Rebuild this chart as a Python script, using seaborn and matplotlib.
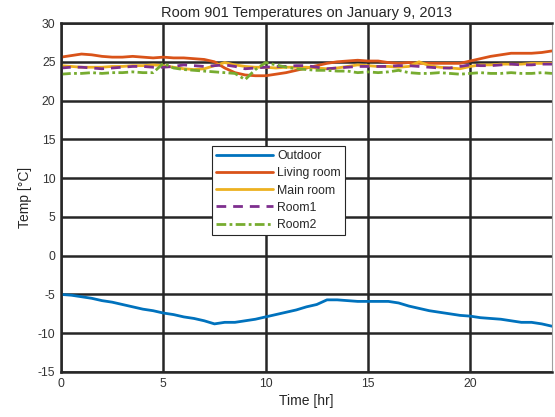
import numpy as np
import pandas as pd
import matplotlib
matplotlib.use("Agg")
import matplotlib.pyplot as plt
import seaborn as sns

# Half-hourly readings, 0 h to 24 h
hours = [i * 0.5 for i in range(49)]

outdoor = [-5.0, -5.1, -5.3, -5.5, -5.8, -6.0, -6.3, -6.6, -6.9, -7.1,
           -7.4, -7.6, -7.9, -8.1, -8.4, -8.8, -8.6, -8.6, -8.4, -8.2,
           -7.9, -7.6, -7.3, -7.0, -6.6, -6.3, -5.7, -5.7, -5.8, -5.9,
           -5.9, -5.9, -5.9, -6.1, -6.5, -6.8, -7.1, -7.3, -7.5, -7.7,
           -7.8, -8.0, -8.1, -8.2, -8.4, -8.6, -8.6, -8.8, -9.1]

living_room = [25.6, 25.8, 26.0, 25.9, 25.7, 25.6, 25.6, 25.7, 25.6, 25.5,
               25.6, 25.5, 25.5, 25.4, 25.3, 25.0, 24.2, 23.6, 23.3, 23.2,
               23.2, 23.4, 23.6, 23.9, 24.2, 24.5, 24.8, 25.0, 25.1, 25.2,
               25.1, 25.1, 24.9, 24.8, 24.9, 24.8, 24.8, 24.8, 24.8, 24.8,
               25.1, 25.4, 25.7, 25.9, 26.1, 26.1, 26.1, 26.2, 26.4]

main_room = [24.5, 24.4, 24.3, 24.3, 24.3, 24.4, 24.4, 24.5, 24.5, 24.6,
             24.5, 24.3, 24.1, 24.0, 24.1, 24.5, 24.9, 24.6, 24.4, 24.3,
             24.3, 24.2, 24.3, 24.3, 24.3, 24.2, 24.1, 24.2, 24.4, 24.6,
             24.5, 24.4, 24.4, 24.3, 24.4, 25.0, 24.5, 24.3, 24.2, 24.1,
             24.4, 24.6, 24.6, 24.7, 24.7, 24.7, 24.8, 24.8, 24.8]

room1 = [24.2, 24.3, 24.3, 24.2, 24.1, 24.2, 24.3, 24.4, 24.4, 24.3,
         24.3, 24.4, 24.6, 24.5, 24.4, 24.5, 24.6, 24.4, 24.1, 24.2,
         24.3, 24.4, 24.4, 24.5, 24.5, 24.3, 24.1, 24.2, 24.3, 24.4,
         24.4, 24.4, 24.4, 24.5, 24.5, 24.4, 24.3, 24.2, 24.2, 24.4,
         24.6, 24.5, 24.5, 24.6, 24.7, 24.6, 24.6, 24.7, 24.7]

room2 = [23.4, 23.5, 23.5, 23.6, 23.5, 23.6, 23.6, 23.7, 23.6, 23.6,
         24.8, 24.2, 24.0, 23.9, 23.8, 23.7, 23.6, 23.5, 22.7, 24.0,
         24.9, 24.6, 24.3, 24.1, 24.0, 23.9, 23.9, 23.8, 23.8, 23.6,
         23.7, 23.6, 23.7, 23.9, 23.6, 23.5, 23.5, 23.6, 23.5, 23.4,
         23.5, 23.6, 23.5, 23.5, 23.6, 23.5, 23.5, 23.6, 23.5]

series_names = ["Outdoor", "Living room", "Main room", "Room1", "Room2"]
series_values = [outdoor, living_room, main_room, room1, room2]
colors = ["#0072BD", "#D95319", "#EDB120", "#7E2F8E", "#77AC30"]
linestyles = ["-", "-", "-", (0, (3.5, 2.5)), (0, (3.5, 1.2, 1.0, 1.2))]

x_ticks = [0, 5, 10, 15, 20]
y_ticks = [-15, -10, -5, 0, 5, 10, 15, 20, 25, 30]

sns.set_theme(style="white")
plt.rcParams["font.family"] = ["Liberation Sans", "DejaVu Sans"]
plt.rcParams["axes.unicode_minus"] = False

fig = plt.figure(figsize=(5.55, 4.17), dpi=100)
ax = fig.add_axes([0.110, 0.108, 0.8846, 0.8368])

for name, vals, c, ls in zip(series_names, series_values, colors, linestyles):
    df = pd.DataFrame({"Time": hours, "Temp": vals})
    sns.lineplot(data=df, x="Time", y="Temp", ax=ax, color=c,
                 linewidth=2.0, label=name, linestyle=ls)

ax.set_xlim(0, 24)
ax.set_ylim(-15, 30)
ax.set_xticks(x_ticks)
ax.set_yticks(y_ticks)
ax.tick_params(axis="both", length=0, labelsize=8.8, labelcolor="#333333", pad=4)

ax.grid(True, color="#262626", linewidth=1.8)
ax.set_axisbelow(True)
for side in ["left", "bottom", "top"]:
    ax.spines[side].set_color("#262626")
    ax.spines[side].set_linewidth(1.8)
ax.spines["right"].set_color("#a0a0a0")
ax.spines["right"].set_linewidth(0.8)

ax.set_xlabel("Time [hr]", fontsize=10, color="#262626", labelpad=3)
ax.set_ylabel("Temp [°C]", fontsize=10, color="#262626", labelpad=4)
ax.set_title("Room 901 Temperatures on January 9, 2013", fontsize=10.5,
             color="#262626", pad=4)

leg = ax.legend(loc="upper left", bbox_to_anchor=(0.3075, 0.6476),
                fontsize=8.8, frameon=True, fancybox=False, framealpha=1,
                edgecolor="#262626", handlelength=4.6, handletextpad=0.4,
                borderpad=0.35, labelspacing=0.42, borderaxespad=0)
leg.get_frame().set_linewidth(0.8)

fig.savefig("out.png", dpi=100)
